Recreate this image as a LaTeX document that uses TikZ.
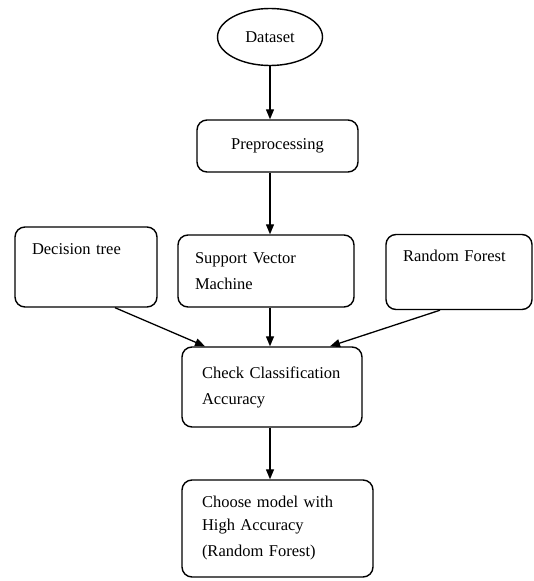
\documentclass[tikz,border=0pt]{standalone}
\usepackage{fontspec}
\setmainfont{Liberation Serif}
\usetikzlibrary{arrows.meta,positioning,shapes.geometric,calc}

\begin{document}
\begin{tikzpicture}[
  x=1pt, y=-1pt,
  font=\fontsize{16.5}{26}\selectfont,
  line width=1.4pt,
  box/.style={rectangle, draw, rounded corners=10pt, align=left,
              inner xsep=0pt, inner ysep=0pt},
  arr/.style={-{Triangle[length=10pt,width=8pt]}, line width=1.3pt}
]
  \useasboundingbox (0,0) rectangle (534,581);
  \node[ellipse, draw, minimum width=105pt, minimum height=57pt,
        inner sep=0pt] (data) at (270,37) {Dataset};
  \node[box, minimum width=161pt, minimum height=52pt] (prep) at (277.5,146)
       {Preprocessing};
  \node[box, minimum width=142pt, minimum height=80pt,
        text width=108pt] (dt) at (86,267) {Decision tree\\[2pt] \strut};
  \node[box, minimum width=176pt, minimum height=72pt,
        text width=142pt] (svm) at (266,271)
       {\fontsize{16.5}{30}\selectfont Support Vector\\ Machine};
  \node[box, minimum width=146pt, minimum height=75pt,
        text width=112pt] (rf) at (459,272) {Random Forest\\[-2pt] \strut};
  \node[box, minimum width=180pt, minimum height=80pt,
        text width=140pt] (chk) at (272,387)
       {Check Classification\\ Accuracy};
  \node[box, minimum width=191pt, minimum height=97pt,
        text width=151pt] (best) at (277.5,528.5)
       {\fontsize{16.5}{23}\selectfont Choose model with\\ High Accuracy\\
        (Random Forest)};
  \draw[arr] (data.south) -- (data.south |- prep.north);
  \draw[arr] (data.south |- prep.south) -- (data.south |- svm.north);
  \draw[arr] (data.south |- svm.south) -- (data.south |- chk.north);
  \draw[arr] ([xshift=29pt]dt.south) -- ([xshift=-67pt]chk.north);
  \draw[arr] ([xshift=-19pt]rf.south) -- ([xshift=58pt]chk.north);
  \draw[arr] (data.south |- chk.south) -- (data.south |- best.north);
\end{tikzpicture}
\end{document}
